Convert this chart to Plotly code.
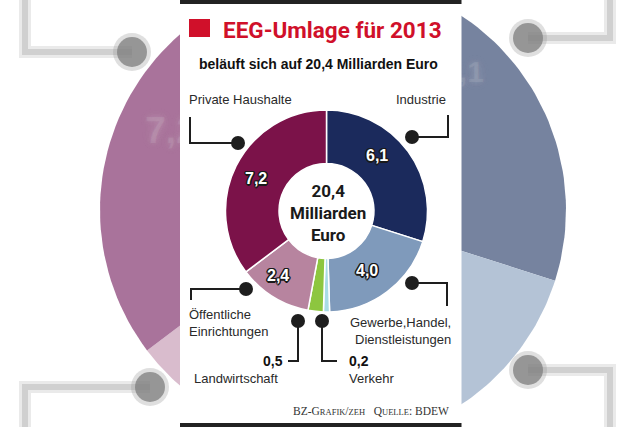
import numpy as np
import plotly.graph_objects as go

# ---------------- data ----------------
categories = ["Industrie", "Gewerbe,Handel,Dienstleistungen", "Verkehr",
              "Landwirtschaft", "Öffentliche Einrichtungen", "Private Haushalte"]
values = [6.1, 4.0, 0.2, 0.5, 2.4, 7.2]
value_labels = ["6,1", "4,0", "0,2", "0,5", "2,4", "7,2"]
total_label = "20,4"
colors = ["#1b2a5c", "#7f9abb", "#a9dce5", "#8dc63f", "#b7849f", "#7b1249"]
bg_colors = ["#76839f", "#b4c3d6", "#d3e9ee", "#cfe3b4", "#d9bccd", "#a9739b"]

W, H = 640, 427
SANS = "'Liberation Sans', Arial, sans-serif"
TITLE = "Roboto, 'Liberation Sans', sans-serif"
SERIF = "'Liberation Serif', 'DejaVu Serif', serif"
INK = "#1e1e1e"

# main donut geometry and positions of its value labels
cx, cy, R = 326.5, 211, 101
label_idx = [0, 1, 4, 5]
label_pos = [(377, 155), (367, 270), (278, 275), (256, 178)]
# background labels that peek out beside the panel (index, position, size)
ghosts = [(5, (171, 134), 37), (0, (463, 74), 30)]

fig = go.Figure()

# ---- blurred, enlarged copy of the donut in the background (cartesian wedges) ----
bcx, bcy, bR = 333, 210, 233
vals = np.array(values, dtype=float)
edges = np.concatenate([[0], np.cumsum(vals)]) / vals.sum() * 2 * np.pi
for i in range(len(vals)):
    a = np.linspace(edges[i], edges[i + 1], 60)
    xs = np.concatenate([[bcx], bcx + bR * np.sin(a), [bcx]])
    ys = np.concatenate([[bcy], bcy - bR * np.cos(a), [bcy]])
    fig.add_trace(go.Scatter(x=xs, y=ys, mode="lines", fill="toself",
                             fillcolor=bg_colors[i], line=dict(width=0),
                             hoverinfo="skip", showlegend=False))

# ghost (blurred) enlarged value labels of the background copy
for gi, (gx, gy), gs in ghosts:
    fig.add_trace(go.Scatter(
        x=[gx], y=[gy], text=[value_labels[gi]], mode="text",
        textfont=dict(family=SANS, size=gs, color="rgba(225,225,225,0.12)", weight="bold",
                      shadow="0 0 5px rgba(228,228,228,0.95), 0 0 10px rgba(228,228,228,0.9), "
                             "0 0 14px rgba(228,228,228,0.6)"),
        hoverinfo="skip", showlegend=False))

# ---- white panel ----
px0, px1 = 180, 461.5
fig.add_trace(go.Scatter(x=[px0, px1, px1, px0, px0], y=[0, 0, H, H, 0], mode="lines",
                         fill="toself", fillcolor="white", line=dict(width=0),
                         hoverinfo="skip", showlegend=False))

# ---- main donut ----
fig.add_trace(go.Pie(
    values=values, labels=categories, sort=False, direction="clockwise", rotation=0,
    hole=0.47, marker=dict(colors=colors, line=dict(color="white", width=1.5)),
    textinfo="none", hoverinfo="skip", showlegend=False,
    domain=dict(x=[(cx - R) / W, (cx + R) / W], y=[(H - cy - R) / H, (H - cy + R) / H]),
))

shapes = []


def line_path(pts, color=INK, width=2):
    d = "M " + " L ".join(f"{x},{y}" for x, y in pts)
    shapes.append(dict(type="path", path=d, xref="x", yref="y",
                       line=dict(color=color, width=width), layer="above"))


def dot(x, y, r=7, color=INK):
    shapes.append(dict(type="circle", xref="x", yref="y",
                       x0=x - r, x1=x + r, y0=y - r, y1=y + r,
                       fillcolor=color, line=dict(width=0), layer="above"))


def rect(x0, y0, x1, y1, color):
    shapes.append(dict(type="rect", xref="x", yref="y", x0=x0, x1=x1, y0=y0, y1=y1,
                       fillcolor=color, line=dict(width=0), layer="above"))


# blurred background connectors
for pts, d in [([(25, -10), (25, 52), (132, 52)], (132, 52)),
               ([(25, 440), (25, 387), (150, 387)], (150, 387)),
               ([(610, -10), (610, 38), (528, 38)], (528, 38)),
               ([(610, 440), (610, 370), (528, 370)], (528, 370))]:
    line_path(pts, color="rgba(220,220,220,0.6)", width=12)
    line_path(pts, color="rgba(203,203,203,0.85)", width=6)
    dot(*d, r=19, color="rgba(150,150,150,0.3)")
    dot(*d, r=15, color="rgba(125,125,125,0.75)")

# panel bars
rect(px0, 0, px1, 4, "#222222")
rect(px0, 423, px1, H, "#222222")
# red square of the title
rect(189, 19, 210, 37, "#d0102a")

# connectors of the main chart
line_path([(190, 117), (190, 143), (238, 143)]); dot(238, 143)
line_path([(448, 115), (448, 137), (412, 137)]); dot(412, 137)
line_path([(191, 300), (191, 289), (246, 289)]); dot(246, 289)
line_path([(412, 283), (447, 283), (447, 306)]); dot(412, 283)
line_path([(298, 321), (298, 361), (288, 361)]); dot(298, 321)
line_path([(322, 321), (322, 361), (337, 361)]); dot(322, 321)

ann = []


def text(x, y, s, size=13, color="#2a2a2a", family=SANS, xanchor="left",
         yanchor="middle", align="left", **font_extra):
    ann.append(dict(x=x, y=y, xref="x", yref="y", text=s, showarrow=False,
                    xanchor=xanchor, yanchor=yanchor, align=align,
                    font=dict(size=size, color=color, family=family, **font_extra)))


OUTLINE = ("-1px -1px 0 #1a1a1a, 1px -1px 0 #1a1a1a, -1px 1px 0 #1a1a1a, 1px 1px 0 #1a1a1a, "
           "0 1.5px 0 #1a1a1a, 1.5px 0 0 #1a1a1a, -1.5px 0 0 #1a1a1a, 0 -1.5px 0 #1a1a1a")

text(221, 30, "<b>EEG-Umlage für 2013</b>", size=22.5, color="#d0102a", family=TITLE)
text(318, 64, "<b>beläuft sich auf " + total_label + " Milliarden Euro</b>", size=14,
     color="#111", xanchor="center")
text(187, 99, "Private Haushalte")
text(448, 99, "Industrie", xanchor="right")
text(187, 323, "Öffentliche<br>Einrichtungen")
text(453, 331, "Gewerbe,Handel,<br>Dienstleistungen", xanchor="right", align="right")
text(285, 361, "<b>" + value_labels[3] + "</b>", size=14, color="#111", xanchor="right")
text(192, 378, "Landwirtschaft")
text(347, 361, "<b>" + value_labels[2] + "</b>", size=14, color="#111")
text(347, 378, "Verkehr")
text(cx + 1, 213, "<b>" + total_label + "<br>Milliarden<br>Euro</b>", size=17, color="#1a1a1a",
     family=TITLE, xanchor="center", align="center")

# value labels on the ring
for idx, (lx, ly) in zip(label_idx, label_pos):
    text(lx, ly, "<b>" + value_labels[idx] + "</b>", size=16, color="white",
         xanchor="center", shadow=OUTLINE)

sc = "font-size:8.5px"
text(451, 411, f"BZ-G<span style='{sc}'>RAFIK</span>/<span style='{sc}'>ZEH</span>"
     f"&nbsp;&nbsp;&nbsp;Q<span style='{sc}'>UELLE</span>: BDEW",
     size=11.5, color="#333", family=SERIF, xanchor="right")

fig.update_layout(
    width=W, height=H, margin=dict(l=0, r=0, t=0, b=0),
    paper_bgcolor="white", plot_bgcolor="white", showlegend=False,
    xaxis=dict(range=[0, W], visible=False, fixedrange=True),
    yaxis=dict(range=[H, 0], visible=False, fixedrange=True),
    shapes=shapes, annotations=ann,
)

fig.write_html("out.html", config={"displayModeBar": False, "staticPlot": True},
               post_script="document.body.style.margin='0px';")
